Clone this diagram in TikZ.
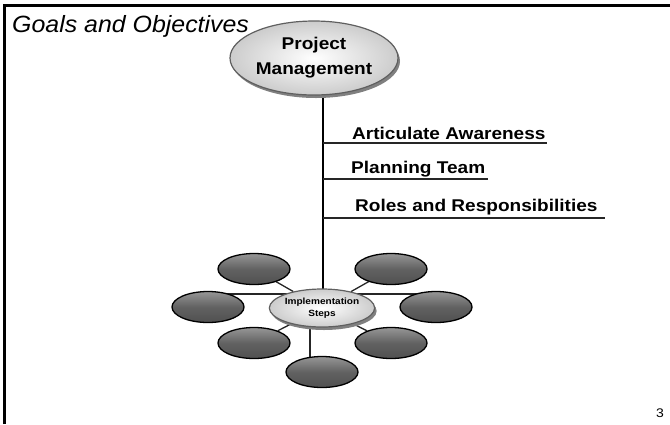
\documentclass[tikz,border=0pt]{standalone}
\usepackage{fontspec}
\setmainfont{Liberation Sans}
\newfontfamily\wsans[FakeStretch=1.12]{Liberation Sans}
\newfontfamily\tsans[FakeStretch=1.06]{Liberation Sans}
\usetikzlibrary{shapes.geometric,shadows,backgrounds}
\definecolor{satdark}{RGB}{80,80,80}
\definecolor{satlight}{RGB}{150,150,150}
\definecolor{hubedge}{RGB}{95,95,95}
\begin{document}
\begin{tikzpicture}[x=1bp,y=-1bp,
  hub/.style={ellipse, inner sep=0pt, draw=hubedge, line width=1.2bp,
    inner color=white, outer color=black!20,
    drop shadow={shadow xshift=2bp, shadow yshift=-3bp, fill=black!50, opacity=1}},
  satell/.style={ellipse, inner sep=0pt, minimum width=72bp, minimum height=31bp,
    draw=black, line width=1.3bp, top color=satlight, bottom color=satdark,
    middle color=satdark!90!white},
  item/.style={anchor=base west, inner sep=0pt,
    font=\wsans\bfseries\fontsize{17bp}{20bp}\selectfont},
  link/.style={line width=1.3bp, draw=black!85},
  trunkline/.style={line width=2.4bp, draw=black}
]
\useasboundingbox (0,0) rectangle (670,424);
% frame
\draw[line width=2.6bp] (4.5,424) -- (4.5,5.2) -- (670,5.2);
% title
\node[anchor=base west, inner sep=0pt,
  font=\tsans\itshape\fontsize{23.5bp}{26bp}\selectfont] (title) at (12,32) {Goals and Objectives};
% top node
\node[hub, minimum width=168bp, minimum height=74bp, align=center,
  font=\wsans\bfseries\fontsize{17bp}{25bp}\selectfont] (pm) at (314,58) {Project\\Management};
% hub
\node[hub, minimum width=82bp, minimum height=38bp, align=center,
  font=\wsans\bfseries\fontsize{9bp}{11.5bp}\selectfont] (impl) at (322,308) {Implementation\\Steps};
% satellites
\node[satell] (ul) at (254,269) {};
\node[satell] (ur) at (391,269) {};
\node[satell] (l)  at (208,307) {};
\node[satell] (r)  at (436,307) {};
\node[satell] (ll) at (254,343) {};
\node[satell] (lr) at (391,343) {};
\node[satell] (b)  at (322,372) {};
% items
\node[item] (aa) at (352,139) {Articulate Awareness};
\node[item] (pt) at (351,173) {Planning Team};
\node[item] (rr) at (355,211) {Roles and Responsibilities};
\coordinate (tt) at (323,96);
\coordinate (tb) at (323,300);
\coordinate (t1) at (323,143);
\coordinate (u1) at (547,143);
\coordinate (t2) at (323,179);
\coordinate (u2) at (488,179);
\coordinate (t3) at (323,218);
\coordinate (u3) at (605,218);
\begin{scope}[on background layer]
  \draw[trunkline] (tt) -- (tb);
  \draw[link] (t1) -- (u1);
  \draw[link] (t2) -- (u2);
  \draw[link] (t3) -- (u3);
  \draw[link] (impl) -- (ul);
  \draw[link] (impl) -- (ur);
  \draw[link] (impl) -- (ll);
  \draw[link] (impl) -- (lr);
  \draw[link] ([yshift=13bp]l.center) -- ([yshift=13bp]r.center);
  \draw[link] ([xshift=-12bp]impl.center) -- ([xshift=-12bp]b.center);
\end{scope}
% page number
\node[anchor=base east, inner sep=0pt, font=\wsans\fontsize{12.5bp}{14bp}\selectfont] (pg) at (664,417) {3};
\end{tikzpicture}
\end{document}
